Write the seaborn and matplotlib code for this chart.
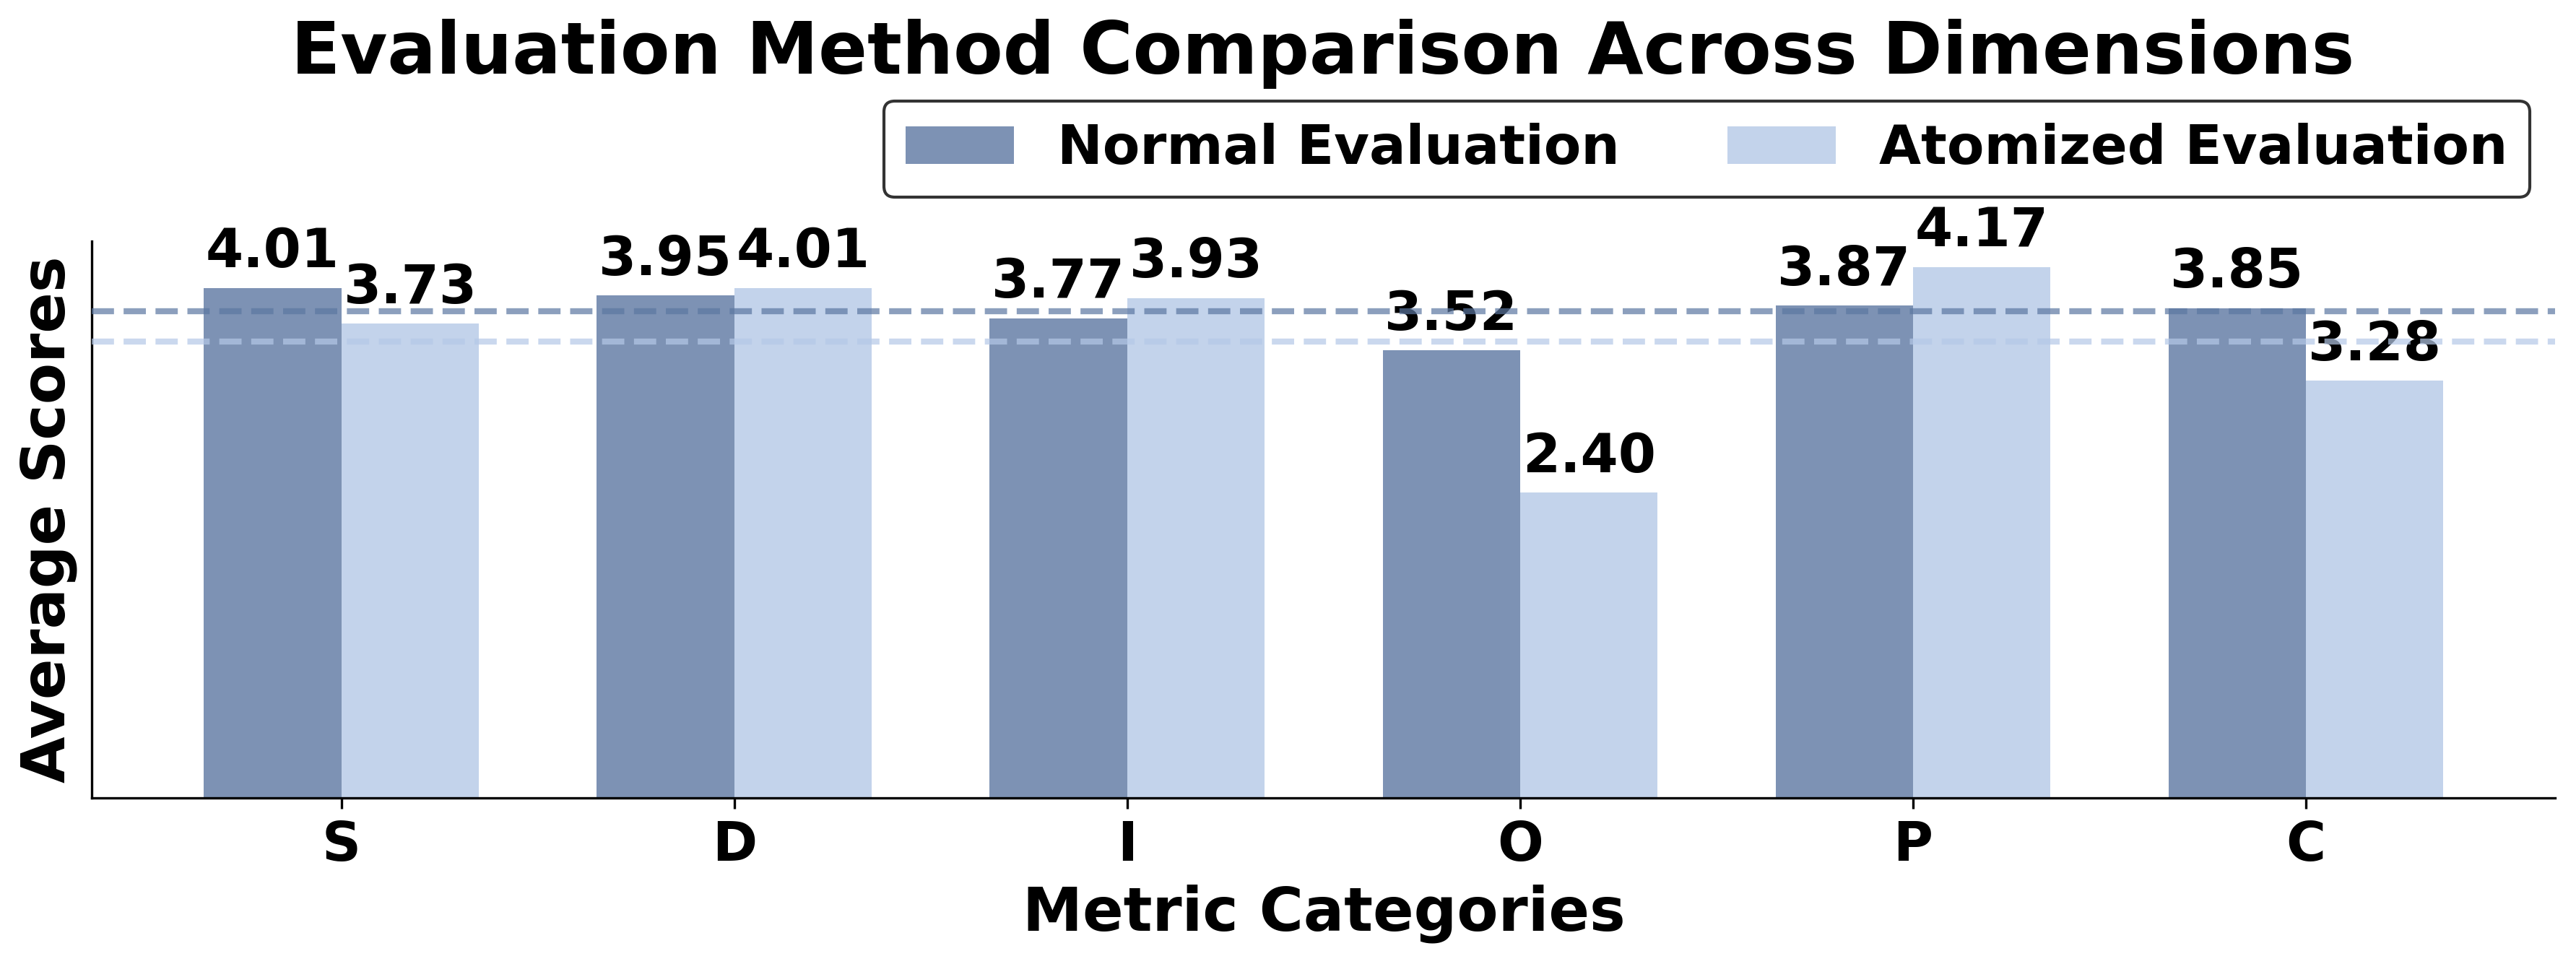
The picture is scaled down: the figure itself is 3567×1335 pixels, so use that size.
import matplotlib
matplotlib.use("Agg")
import matplotlib.pyplot as plt
import seaborn as sns
import pandas as pd
import numpy as np

categories = ["S", "D", "I", "O", "P", "C"]
normal_scores = [4.01, 3.95, 3.77, 3.52, 3.87, 3.85]
atomized_scores = [3.73, 4.01, 3.93, 2.40, 4.17, 3.28]
series_names = ["Normal Evaluation", "Atomized Evaluation"]
base_colors = ["#5c77a1", "#b4c8e7"]

df = pd.DataFrame({
    "Category": categories * 2,
    "Score": normal_scores + atomized_scores,
    "Method": [series_names[0]] * len(categories) + [series_names[1]] * len(categories),
})

sns.set_style("ticks")
plt.rcParams['font.family'] = ['DejaVu Sans']
plt.rcParams.update({
    "text.color": "black",
    "axes.labelcolor": "black",
    "xtick.color": "black",
    "ytick.color": "black",
    "axes.edgecolor": "black",
})

fig = plt.figure(figsize=(3567 / 300, 1335 / 300), dpi=300)
ax = fig.add_axes([0.0357, 0.172, 0.9563, 0.578])

sns.barplot(data=df, x="Category", y="Score", hue="Method", order=categories,
            hue_order=series_names, palette=base_colors, alpha=0.8, saturation=1,
            width=0.7, gap=0, linewidth=0, errorbar=None, ax=ax, legend=True)

for cont in ax.containers:
    ax.bar_label(cont, fmt="%.2f", padding=3, fontsize=18, fontweight="bold", color="black")

ax.axhline(np.mean(normal_scores), color=base_colors[0], linestyle="--", linewidth=2, alpha=0.7, zorder=4)
ax.axhline(np.mean(atomized_scores), color=base_colors[1], linestyle="--", linewidth=2, alpha=0.7, zorder=4)

ax.set_xlim(-0.635, len(categories) - 1 + 0.635)
ax.set_ylim(0, max(max(normal_scores), max(atomized_scores)) * 1.05)
ax.set_yticks([])
ax.tick_params(axis="x", labelsize=18, length=3.5, width=0.8, color="black", labelcolor="black")
for lab in ax.get_xticklabels():
    lab.set_fontweight("bold")
ax.set_xlabel("Metric Categories", fontsize=20, fontweight="bold", labelpad=4, color="black")
ax.set_ylabel("Average Scores", fontsize=20, fontweight="bold", labelpad=5, color="black")
for s in ["left", "bottom"]:
    ax.spines[s].set_color("black")
    ax.spines[s].set_linewidth(0.8)
sns.despine(ax=ax)

handles, labels = ax.get_legend_handles_labels()
ax.get_legend().remove()
leg = fig.legend(handles, labels, loc="upper right", bbox_to_anchor=(0.982, 0.895),
                 ncol=2, prop={"weight": "bold", "size": 18}, frameon=True,
                 borderaxespad=0)
leg.get_frame().set_edgecolor("black")
leg.get_frame().set_linewidth(1.0)
for t in leg.get_texts():
    t.set_color("black")

fig.text(0.5134, 0.944, "Evaluation Method Comparison Across Dimensions",
         ha="center", va="center", fontsize=24, fontweight="bold", color="black")

fig.savefig("out.png", dpi=300)
